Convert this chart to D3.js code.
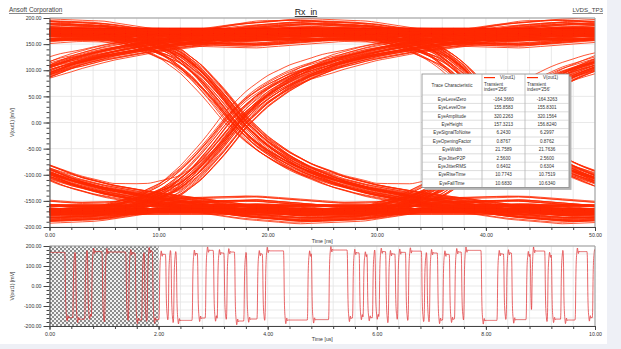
<!DOCTYPE html>
<html>
<head>
<meta charset="utf-8">
<script src="https://cdn.jsdelivr.net/npm/d3@7"></script>
<style>
  html, body { margin: 0; padding: 0; background: #eef0f6; }
  svg { display: block; font-family: "Liberation Sans", Arial, sans-serif; }
</style>
</head>
<body>
<svg id="chart" width="621" height="349"></svg>
<script>
// ---- signal description: NRZ bit runs of V(out1) ----
const unitInterval = 24.3;           // ns per bit
// run lengths in bits, alternating high / low, starting high
const runBits = [12,6,2,7,2,3,8,2,16,2, 5,5,2,2,4,5,5,2,2,2, 2,12,4,6,6,3,5,2,6,7,
                 2,8,4,2,14,18,3,13,14,4, 5,3,3,4,2,3,5,2,5,2, 6,2,10,2,2,2,6,4,5,4,
                 5,2,13,12,5,2,4,11,3,1, 10,2,3,7,2,9,9,4,2];
// settled level of each run, mV
const runLevel = [168,-158,152,-166,160,-150,172,-162,170,-155, 165,-170,150,-160,175,-168,158,-152,160,-165,
                  155,-172,162,-160,178,-158,165,-150,170,-175, 150,-165,160,-155,176,-170,158,-168,180,-160,
                  166,-152,155,-158,162,-150,172,-165,160,-150, 168,-155,174,-160,150,-162,165,-170,158,-165,
                  170,-152,178,-172,160,-150,165,-168,156,-145, 175,-160,152,-166,160,-170,172,-158,165];
// timing offset of each edge from the bit grid, ns
const edgeJitter = [0.4,-0.6,-0.3,0.7,0.5,0.6,0.9,0.8,-0.7,0.1, 0.6,-0.4,0.0,0.7,0.2,0.9,-0.6,-1.1,0.3,-0.9,
                    0.5,0.6,0.4,-0.5,0.3,-0.9,0.9,0.3,-0.2,0.0, 0.1,0.2,0.7,0.7,0.3,-0.5,0.0,0.3,0.0,0.9,
                    0.4,0.0,-1.2,0.8,-0.6,0.5,-0.5,-1.0,0.9,-0.7, -0.2,-0.8,0.0,0.7,0.7,-0.4,0.3,0.9,1.0,-0.7,
                    0.9,-1.2,-0.7,0.8,-0.9,-0.8,-1.0,-0.7,0.7,0.5, 0.7,0.2,0.7,0.2,-0.2,-0.2,0.5,0.0];
// edge step response (with line reflections): fraction of the swing vs. time from the 50% point (ns)
const edgeOffsetNs = [-12,-9,-6,-4,-2,0,2,4,6,9,12,16,20,25,30,36,42,50,58,66];
const edgeFraction = [0,0.03,0.1,0.2,0.34,0.5,0.62,0.71,0.78,0.855,0.905,0.95,0.985,1.03,1.055,1.04,0.985,0.97,1.01,1];
const eyeCrossNs = 17.3;             // position of the centre crossing in the eye window
const eyeWindowNs = 50;

// ---- axis ticks ----
const eyeXTicks = [0,10,20,30,40,50];
const eyeYTicks = [-200,-150,-100,-50,0,50,100,150,200];
const waveXTicks = [0,2,4,6,8,10];
const waveYTicks = [-200,-100,0,100,200];

// ---- eye measurement table ----
const tableNames = ["EyeLevelZero","EyeLevelOne","EyeAmplitude","EyeHeight","EyeSignalToNoise",
                    "EyeOpeningFactor","EyeWidth","EyeJitterP2P","EyeJitterRMS","EyeRiseTime","EyeFallTime"];
const tableColA = ["-164.3660","155.8583","320.2263","157.3213","6.2430","0.8767","21.7589","2.5600","0.6402","10.7743","10.6830"];
const tableColB = ["-164.3263","155.8301","320.1564","156.8240","6.2997","0.8762","21.7636","2.5600","0.6304","10.7519","10.6340"];

// ---------------------------------------------------------------
const svg = d3.select("#chart");
const fmt = d => d.toFixed(2);
const red = "#ff2a00";

svg.append("rect").attr("x",0).attr("y",0).attr("width",607).attr("height",344).attr("fill","#fff");

// edges of the waveform
const edges = [];
let bitPos = 0;
runBits.forEach((n, i) => {
  bitPos += n;
  if (i < runBits.length - 1) edges.push({ t: bitPos * unitInterval + edgeJitter[i], step: runLevel[i + 1] - runLevel[i] });
});
const totalNs = bitPos * unitInterval;
const edgeShape = d3.scaleLinear().domain(edgeOffsetNs).range(edgeFraction).clamp(true);
function levelAt(t) {
  let v = runLevel[0];
  for (const e of edges) {
    const d = t - e.t;
    if (d < edgeOffsetNs[0]) break;
    v += e.step * edgeShape(d);
  }
  return v;
}

// ---- scales ----
const xEye = d3.scaleLinear([0, 50], [49.5, 595]);
const yEye = d3.scaleLinear([-200, 200], [227, 18]);
const xWave = d3.scaleLinear([0, 10], [49.5, 595]);
const yWave = d3.scaleLinear([-200, 200], [326, 246]);

const defs = svg.append("defs");
defs.append("clipPath").attr("id","clipEye").append("rect")
  .attr("x",xEye(0)).attr("y",yEye(200)).attr("width",xEye(50)-xEye(0)).attr("height",yEye(-200)-yEye(200));
defs.append("clipPath").attr("id","clipWave").append("rect")
  .attr("x",xWave(0)).attr("y",yWave(200)).attr("width",xWave(10)-xWave(0)).attr("height",yWave(-200)-yWave(200));
const pat = defs.append("pattern").attr("id","dither").attr("patternUnits","userSpaceOnUse")
  .attr("width",4).attr("height",4);
pat.append("rect").attr("width",4).attr("height",4).attr("fill","#f2f2f2");
pat.append("rect").attr("x",0).attr("y",0).attr("width",2).attr("height",2).attr("fill","#8c8c8c");
pat.append("rect").attr("x",2).attr("y",2).attr("width",2).attr("height",2).attr("fill","#8c8c8c");

// ---- grids ----
function grid(g, xScale, yScale, xStep, yStep, xMax, yMin, yMax) {
  const xv = d3.range(0, xMax + 1e-9, xStep);
  const yv = d3.range(yMin, yMax + 1e-9, yStep);
  g.selectAll("line.gx").data(xv).join("line")
    .attr("x1", d => xScale(d)).attr("x2", d => xScale(d))
    .attr("y1", yScale(yMax)).attr("y2", yScale(yMin))
    .attr("stroke", "#e3e3e3").attr("stroke-width", 0.8);
  g.selectAll("line.gy").data(yv).join("line")
    .attr("y1", d => yScale(d)).attr("y2", d => yScale(d))
    .attr("x1", xScale(0)).attr("x2", xScale(xMax))
    .attr("stroke", "#e3e3e3").attr("stroke-width", 0.8);
}
grid(svg.append("g"), xEye, yEye, 2, 50, 50, -200, 200);
grid(svg.append("g"), xWave, yWave, 0.4, 40, 10, -200, 200);

// ---- eye diagram traces ----
const eyeG = svg.append("g").attr("clip-path","url(#clipEye)");
const eyeLine = d3.line().x(d => xEye(d[0])).y(d => yEye(d[1])).curve(d3.curveMonotoneX);
const traces = [];
for (let k = 1; ; k++) {
  const start = k * unitInterval - eyeCrossNs;
  if (start + eyeWindowNs > totalNs) break;
  if (start < 0) continue;
  const pts = [];
  for (let s = 0; s <= eyeWindowNs; s += 1) pts.push([s, levelAt(start + s)]);
  traces.push(pts);
}
eyeG.selectAll("path").data(traces).join("path")
  .attr("d", eyeLine).attr("fill","none").attr("stroke", red).attr("stroke-width", 0.8);

// ---- time-domain waveform ----
svg.append("rect").attr("x",xWave(0)).attr("y",yWave(200))
  .attr("width",xWave(2)-xWave(0)).attr("height",yWave(-200)-yWave(200)).attr("fill","url(#dither)");
const wavePts = [];
for (let t = 0; t <= Math.min(totalNs, 10000); t += 2) wavePts.push([t / 1000, levelAt(t)]);
svg.append("g").attr("clip-path","url(#clipWave)").append("path")
  .datum(wavePts)
  .attr("d", d3.line().x(d => xWave(d[0])).y(d => yWave(d[1])))
  .attr("fill","none").attr("stroke","#e0262a").attr("stroke-width",0.7);

// ---- frames and axes ----
function frame(xs, ys) {
  svg.append("path")
    .attr("d", `M${xs(xs.domain()[0])},${ys(ys.domain()[1])}H${xs(xs.domain()[1])}V${ys(ys.domain()[0])}`)
    .attr("fill","none").attr("stroke","#9a9a9a").attr("stroke-width",1);
}
frame(xEye, yEye);
frame(xWave, yWave);

function styleAxis(g) {
  g.selectAll("text").attr("fill","#333").style("font-size","5.2px").style("font-family","Liberation Sans, Arial, sans-serif");
  g.select(".domain").attr("stroke","#444");
  g.selectAll(".tick line").attr("stroke","#444");
}
function axes(xs, ys, xTicks, yTicks, xMinor, yMinor) {
  // minor ticks
  svg.append("g").attr("transform",`translate(${xs.range()[0]},0)`)
    .call(d3.axisLeft(ys).tickValues(yMinor).tickSize(3).tickFormat(""))
    .call(g => { g.select(".domain").remove(); g.selectAll("line").attr("stroke","#444"); });
  svg.append("g").attr("transform",`translate(0,${ys.range()[0]})`)
    .call(d3.axisBottom(xs).tickValues(xMinor).tickSize(3).tickFormat(""))
    .call(g => { g.select(".domain").remove(); g.selectAll("line").attr("stroke","#444"); });
  // major ticks with labels
  svg.append("g").attr("transform",`translate(${xs.range()[0]},0)`)
    .call(d3.axisLeft(ys).tickValues(yTicks).tickSize(6).tickSizeOuter(0).tickPadding(2).tickFormat(fmt))
    .call(styleAxis);
  svg.append("g").attr("transform",`translate(0,${ys.range()[0]})`)
    .call(d3.axisBottom(xs).tickValues(xTicks).tickSize(4).tickSizeOuter(0).tickPadding(2).tickFormat(fmt))
    .call(styleAxis);
}
axes(xEye, yEye, eyeXTicks, eyeYTicks, d3.range(0, 50.01, 2), d3.range(-200, 200.01, 10));
axes(xWave, yWave, waveXTicks, waveYTicks, d3.range(0, 10.001, 0.4), d3.range(-200, 200.01, 20));

// axis titles
const small = sel => sel.attr("fill","#333").style("font-size","5.2px");
svg.append("text").attr("x", (xEye(0)+xEye(50))/2).attr("y", 243).attr("text-anchor","middle").text("Time [ns]").call(small);
svg.append("text").attr("x", (xWave(0)+xWave(10))/2).attr("y", 341).attr("text-anchor","middle").text("Time [us]").call(small);
svg.append("text").attr("transform",`translate(14,${yEye(0)}) rotate(-90)`).attr("text-anchor","middle").text("V(out1) [mV]").call(small);
svg.append("text").attr("transform",`translate(14,${yWave(0)}) rotate(-90)`).attr("text-anchor","middle").text("V(out1) [mV]").call(small);

// header texts
svg.append("text").attr("x",9).attr("y",12).text("Ansoft Corporation")
  .attr("fill","#444").style("font-size","6.4px").style("text-decoration","underline");
svg.append("text").attr("x",306).attr("y",15).attr("text-anchor","middle").text("Rx_in")
  .attr("fill","#222").style("font-size","8.8px").style("text-decoration","underline");
svg.append("text").attr("x",603).attr("y",12).attr("text-anchor","end").text("LVDS_TP3")
  .attr("fill","#444").style("font-size","6.2px").style("text-decoration","underline");

// ---- measurement table ----
const tb = { x: 422, y: 74, c1: 482, c2: 525, r: 569, head: 21, row: 8.4 };
const tbl = svg.append("g");
const tbBottom = tb.y + tb.head + tb.row * tableNames.length;
tbl.append("rect").attr("x", tb.x + 2.5).attr("y", tb.y + 2.5).attr("width", tb.r - tb.x).attr("height", tbBottom - tb.y)
  .attr("fill","#b5b5b5");
tbl.append("rect").attr("x", tb.x).attr("y", tb.y).attr("width", tb.r - tb.x).attr("height", tbBottom - tb.y)
  .attr("fill","#fff").attr("stroke","#8a8a8a").attr("stroke-width",0.8);
[tb.c1, tb.c2].forEach(cx => tbl.append("line").attr("x1",cx).attr("x2",cx).attr("y1",tb.y).attr("y2",tbBottom)
  .attr("stroke","#9a9a9a").attr("stroke-width",0.6));
tableNames.forEach((n, i) => {
  const y0 = tb.y + tb.head + tb.row * i;
  tbl.append("line").attr("x1",tb.x).attr("x2",tb.r).attr("y1",y0).attr("y2",y0).attr("stroke","#bbb").attr("stroke-width",0.5);
  const yc = y0 + tb.row / 2 + 1.6;
  const cell = (x, t) => tbl.append("text").attr("x", x).attr("y", yc).attr("text-anchor","middle")
    .attr("fill","#333").style("font-size","4.6px").text(t);
  cell((tb.x + tb.c1) / 2, n);
  cell((tb.c1 + tb.c2) / 2, tableColA[i]);
  cell((tb.c2 + tb.r) / 2, tableColB[i]);
});
tbl.append("text").attr("x",(tb.x+tb.c1)/2).attr("y",tb.y+tb.head/2+2).attr("text-anchor","middle")
  .attr("fill","#333").style("font-size","4.6px").text("Trace Characteristic");
[tb.c1, tb.c2].forEach(cx => {
  tbl.append("rect").attr("x",cx+2).attr("y",tb.y+3).attr("width",11).attr("height",1.2).attr("fill",red);
  const t = (dy, s, x) => tbl.append("text").attr("x",x).attr("y",tb.y+dy).attr("fill","#333").style("font-size","4.6px").text(s);
  t(5.2, "V(out1)", cx + 18);
  t(11.5, "Transient", cx + 2);
  t(17, "index='256'", cx + 2);
});
</script>
</body>
</html>
